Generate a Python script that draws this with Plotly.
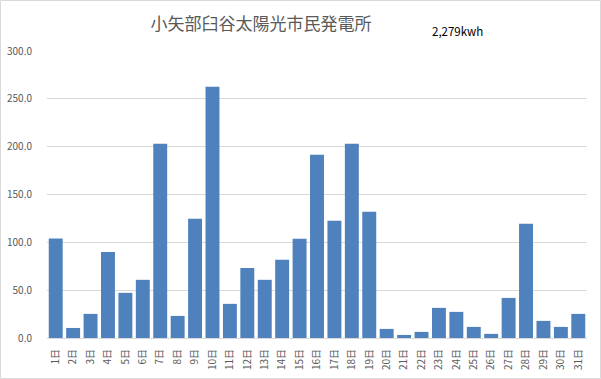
import plotly.graph_objects as go

days = [f"{i}日" for i in range(1, 32)]
values = [104.0, 10.5, 25.2, 90.0, 47.2, 60.8, 203.0, 23.1, 124.6, 262.7,
          35.7, 73.3, 60.8, 81.7, 103.7, 191.5, 122.5, 203.0, 131.9, 9.5,
          3.2, 6.4, 31.5, 27.3, 11.6, 4.3, 41.9, 119.4, 17.9, 11.6, 25.2]
title_text = "小矢部臼谷太陽光市民発電所"
total_text = "2,279kwh"
y_ticks = [0, 50, 100, 150, 200, 250, 300]

FONT = "Noto Sans CJK JP"
W, H = 601, 379
L, R, T, B = 47, 14, 51, 41
pw, ph = W - L - R, H - T - B

fig = go.Figure(go.Bar(x=days, y=values, marker_color="#4f81bd",
                       marker_line_width=0))

fig.update_layout(
    width=W, height=H,
    margin=dict(l=L, r=R, t=T, b=B, pad=0, autoexpand=False),
    paper_bgcolor="white", plot_bgcolor="white",
    bargap=0.2, showlegend=False,
    font=dict(family=FONT, color="#595959"),
    title=dict(text=title_text, x=261 / W, xanchor="center", xref="container",
               y=1 - 24 / H, yanchor="middle", yref="container",
               font=dict(size=17, color="#595959", family=FONT)),
)
fig.update_xaxes(tickangle=-90, tickfont=dict(size=10, color="#595959"),
                 showgrid=False, showline=True, linecolor="#d9d9d9",
                 linewidth=1, ticks="", ticklabelstandoff=6, automargin=False)
fig.update_yaxes(range=[0, 300], tickvals=y_ticks, tickformat=".1f",
                 tickfont=dict(size=10, color="#595959"),
                 gridcolor="#d9d9d9", gridwidth=1, zeroline=False,
                 showline=False, ticks="", ticklabelstandoff=14,
                 automargin=False)

fig.add_annotation(text=total_text, xref="paper", yref="paper",
                   x=(430 - L) / pw, y=(H - B - 31) / ph, xanchor="left",
                   yanchor="middle", showarrow=False,
                   font=dict(size=11.5, color="black", family=FONT))

fig.add_shape(type="rect", xref="paper", yref="paper",
              x0=(0.5 - L) / pw, x1=(W - 0.5 - L) / pw,
              y0=(H - B - (H - 0.5)) / ph, y1=(H - B - 0.5) / ph,
              line=dict(color="#d9d9d9", width=1), layer="below")

fig.write_html("out.html",
               config={"displayModeBar": False},
               post_script="document.body.style.margin='0';"
                           "document.body.style.overflow='hidden';")
